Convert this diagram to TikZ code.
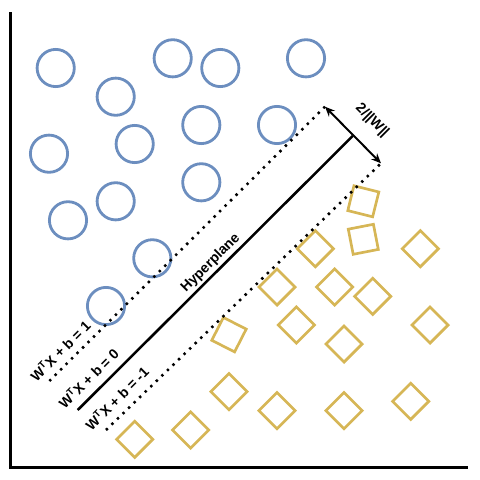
\documentclass[tikz,border=0pt]{standalone}
\usepackage{fontspec}
\setmainfont{Liberation Sans}
\usetikzlibrary{arrows.meta}
\definecolor{cblue}{HTML}{6C8EBF}
\definecolor{cgold}{HTML}{D6B656}

\begin{document}
\begin{tikzpicture}[x=0.025cm, y=-0.025cm, >={Stealth[length=7pt,width=6pt]},
  blob/.style={circle, draw=cblue, line width=2pt, minimum size=0.93cm, inner sep=0pt},
  box/.style={rectangle, draw=cgold, line width=1.9pt, minimum size=0.64cm, inner sep=0pt, rotate=#1},
  box/.default=45,
  margin/.style={line width=1.8pt, dash pattern=on 1.7pt off 3.8pt},
  lbl/.style={font=\fontsize{10}{12}\selectfont\bfseries, inner sep=0pt}]
\useasboundingbox (0,0) rectangle (480,480);
%% --- axes ---
\coordinate (top) at (10.5,12);
\coordinate (orig) at (10.5,467.5);
\coordinate (right) at (468,467.5);
\draw[line width=2.2pt] (top) -- (orig) -- (right);
%% --- class +1: circles ---
\foreach \i/\x/\y in {1/55.7/68, 2/115.7/96.7, 3/172.7/58.3, 4/220.3/68, 5/306/58.3,
  6/201.3/125, 7/277/125, 8/49/153.7, 9/134.7/144, 10/201.3/182.3,
  11/115.7/201.3, 12/68/220.3, 13/152.3/258.3, 14/106/306} {
  \node[blob] (c\i) at (\x,\y) {};
}
%% --- class -1: squares ---
\foreach \i/\x/\y in {1/315.3/248.7, 2/420.3/248.7, 3/277/287, 4/334.7/287, 5/372.7/296.3,
  6/296.3/325, 7/430/325, 8/344/344, 9/229/391.7, 10/277/410.7,
  11/344/410.7, 12/410.7/401.3, 13/190.7/430, 14/134.7/439.3} {
  \node[box] (d\i) at (\x,\y) {};
}
\node[box=-14] (d15) at (363.3,201.3) {};
\node[box=11] (d16) at (363.3,239.3) {};
\node[box=-27] (d17) at (229,334.7) {};
%% --- hyperplane and margins ---
\coordinate (h1) at (77.7,410);
\coordinate (h2) at (352.7,136);
\coordinate (p1) at (49.3,381);
\coordinate (p2) at (325,106.7);
\coordinate (m1) at (106,430);
\coordinate (m2) at (381,163.3);
\draw[line width=1.8pt] (h1) -- (h2);
\draw[margin] (p1) -- (p2);
\draw[margin] (m1) -- (m2);
\draw[<->, line width=1.4pt] (p2) -- (m2);
\node[lbl, rotate=45] (lhyp) at (210.7,263.3) {Hyperplane};
\node[lbl, rotate=45] (lpos) at (60,350.7) {W\textsuperscript{T}X + b = 1};
\node[lbl, rotate=45] (lzero) at (88.3,378.3) {W\textsuperscript{T}X + b = 0};
\node[lbl, rotate=45] (lneg) at (116.7,398.3) {W\textsuperscript{T}X + b = -1};
\node[lbl, rotate=-45] (lwid) at (372,120.7) {2/||W||};
\end{tikzpicture}
\end{document}
